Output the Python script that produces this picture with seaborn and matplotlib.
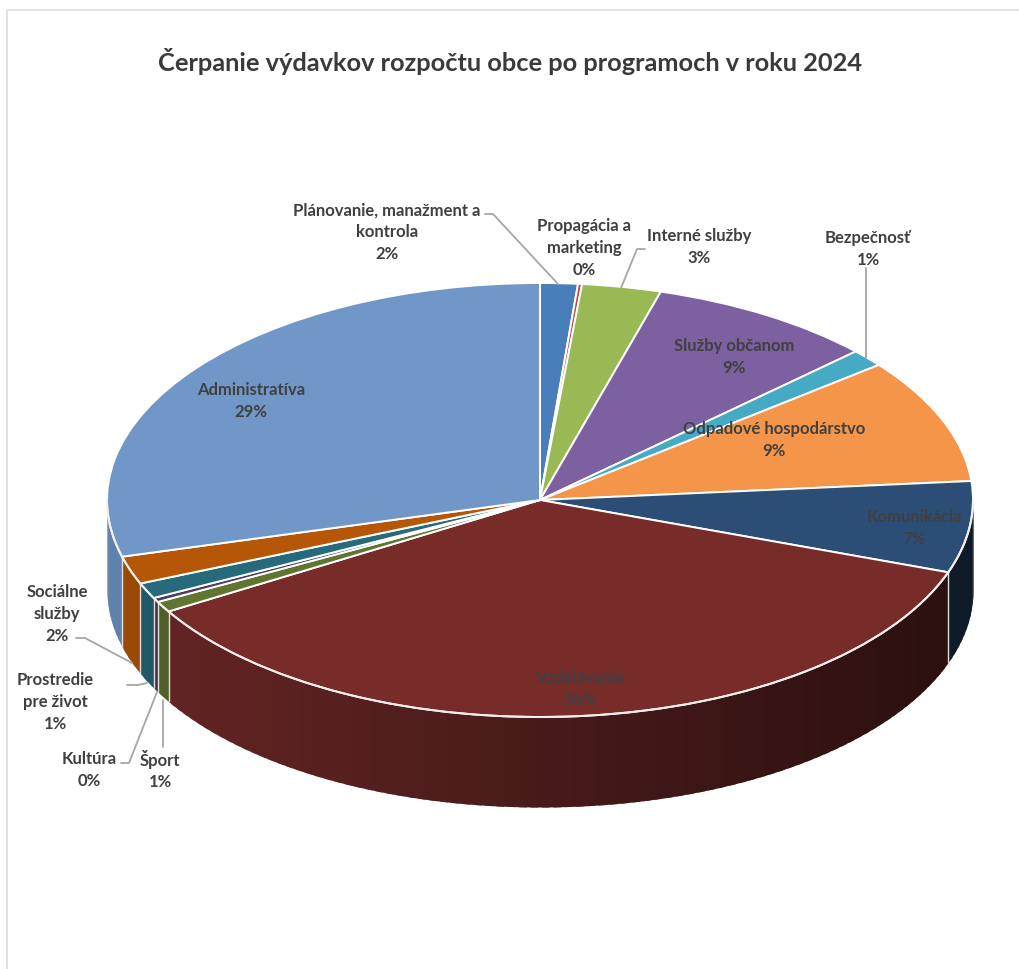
import numpy as np
import matplotlib
matplotlib.use('Agg')
import matplotlib.pyplot as plt
import matplotlib.colors as mcolors
import seaborn as sns

# clockwise from 12 o'clock
programs = ['Plánovanie, manažment a\nkontrola', 'Propagácia a\nmarketing', 'Interné služby',
            'Služby občanom', 'Bezpečnosť', 'Odpadové hospodárstvo', 'Komunikácia',
            'Vzdelávanie', 'Šport', 'Kultúra', 'Prostredie\npre život', 'Sociálne\nslužby',
            'Administratíva']
shares = [1.4, 0.15, 2.95, 8.5, 1.3, 9.3, 6.8, 36.0, 0.8, 0.33, 1.17, 2.08, 29.2]
shown_pct = ['2%', '0%', '3%', '9%', '1%', '9%', '7%', '36%', '1%', '0%', '1%', '2%', '29%']
top_colors = ['#4a7ebb', '#be4b48', '#98b954', '#7d60a0', '#46aac5', '#f4954a', '#2c4d75',
              '#772c2a', '#5f7530', '#4d3b62', '#276a7c', '#b65708', '#7097c8']

# label centres in image pixels
label_pos = [(387, 232), (584, 248), (699, 247), (734, 357), (868, 249), (774, 440), (914, 528),
             (580, 689), (160, 770), (89, 770), (55, 702), (57, 614), (251, 401)]

# leader lines in image pixels
leaders = [[(485, 214), (493, 214), (558, 284)],
           [(645, 249), (637, 249), (621, 288)],
           [(866, 268), (866, 358)],
           [(76, 638), (85, 638), (132, 663)],
           [(127, 685), (138, 685), (147, 683)],
           [(121, 763), (129, 763), (157, 692)],
           [(163, 747), (163, 700)]]

W, H = 1020, 969
cx, cy, rx, ry, depth = 540, 500, 433, 217, 90

sns.set_theme(style='white')
plt.rcParams['font.family'] = ['Lato', 'DejaVu Sans']

fig = plt.figure(figsize=(W / 100, H / 100), dpi=100)
ax = fig.add_axes([0, 0, 1, 1])

# top face, unit circle squashed by the axis limits
ax.pie(shares, colors=top_colors, startangle=90, counterclock=False,
       wedgeprops={'edgecolor': 'white', 'linewidth': 1.4, 'zorder': 3})
ax.set_aspect('auto')
ax.set_xlim(-cx / rx, (W - cx) / rx)
ax.set_ylim((cy - H) / ry, cy / ry)
ax.axis('off')

# side wall, shaded strip by strip, each strip runs under the next so no seams show
d = depth / ry
edges = np.cumsum([0] + shares) / sum(shares) * 360
for i, color in enumerate(top_colors):
    a0, a1 = max(edges[i], 90), min(edges[i + 1], 270)
    if a1 <= a0:
        continue
    n = max(int((a1 - a0) / 1.5), 1)
    steps = np.linspace(a0, a1, n + 1)
    for b0, b1 in zip(steps[:-1], steps[1:]):
        t = np.radians(np.linspace(b0, min(b1 + 1, a1), 4))
        x, y = np.sin(t), np.cos(t)
        shade = 0.6 - 0.26 * np.sin(np.radians((b0 + b1) / 2))
        rgb = np.array(mcolors.to_rgb(color)) * shade
        ax.fill_between(x, y - d, y, color=rgb, linewidth=0, zorder=1)

# seams on the wall and white rim
for a in edges:
    if 90 < a < 270:
        t = np.radians(a)
        ax.plot([np.sin(t)] * 2, [np.cos(t), np.cos(t) - d], color='#e4dedb', lw=1, zorder=2)
t = np.radians(np.linspace(90, 270, 200))
ax.plot(np.sin(t), np.cos(t), color='#f4efec', lw=1.4, zorder=4)

# overlay in image pixels for text, leaders and frame
ov = fig.add_axes([0, 0, 1, 1], facecolor='none')
ov.set_xlim(0, W)
ov.set_ylim(H, 0)
ov.axis('off')

ov.plot([7.5, 7.5, W], [H, 9.5, 9.5], color='#dcdcdc', lw=1.2)
for pts in leaders:
    ov.plot(*zip(*pts), color='#a6a6a6', lw=1.3, zorder=5)

ov.text(510, 61, 'Čerpanie výdavkov rozpočtu obce po programoch v roku 2024',
        ha='center', va='center', fontsize=18.3, fontweight='bold', color='#3a3a3a')

for name, pct, (x, y) in zip(programs, shown_pct, label_pos):
    ov.text(x, y, name + '\n' + pct, ha='center', va='center', fontsize=12, fontweight='bold',
            color='#404040', linespacing=1.45, zorder=6)

fig.savefig('out.png', dpi=100)
